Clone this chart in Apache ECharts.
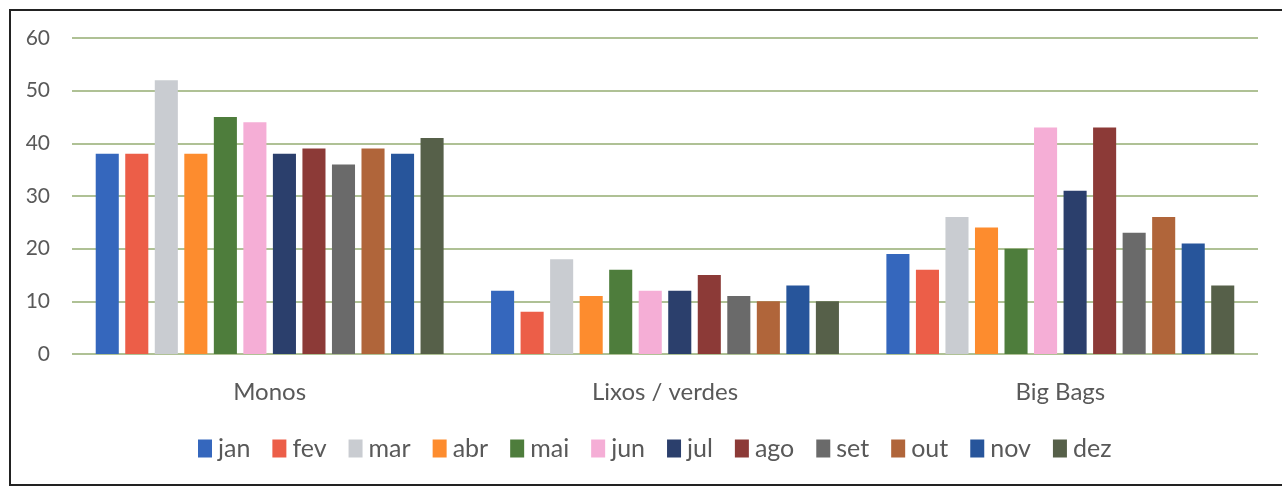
<!DOCTYPE html>
<html>
<head>
<meta charset="utf-8">
<script src="https://cdn.jsdelivr.net/npm/echarts@6/dist/echarts.min.js"></script>
<style>
html,body{margin:0;padding:0;background:#fff;}
#c{width:1282px;height:487px;}
</style>
</head>
<body>
<div id="c"></div>
<script>
const categories = ['Monos', 'Lixos / verdes', 'Big Bags'];
const months = ['jan','fev','mar','abr','mai','jun','jul','ago','set','out','nov','dez'];
const colors = ['#3567bd','#ec5e48','#c9ccd1','#fd8c2e','#4e7d3c','#f5aed6','#2b3f6c','#8c3a37','#6a6a6a','#b0653a','#27559b','#566049'];
const jan = [38, 12, 19];
const fev = [38, 8, 16];
const mar = [52, 18, 26];
const abr = [38, 11, 24];
const mai = [45, 16, 20];
const jun = [44, 12, 43];
const jul = [38, 12, 31];
const ago = [39, 15, 43];
const set = [36, 11, 23];
const out = [39, 10, 26];
const nov = [38, 13, 21];
const dez = [41, 10, 13];
const values = [jan, fev, mar, abr, mai, jun, jul, ago, set, out, nov, dez];
const yTicks = {min: 0, max: 60, interval: 10};

const chart = echarts.init(document.getElementById('c'));
const font = 'Lato, "Open Sans", sans-serif';
chart.setOption({
  animation: false,
  backgroundColor: '#fff',
  textStyle: {fontFamily: font},
  grid: {left: 72, right: 24, top: 38, bottom: 133},
  legend: {
    data: months,
    top: 431,
    left: 193,
    itemWidth: 14,
    itemHeight: 18,
    itemGap: 22,
    icon: 'rect',
    textStyle: {fontSize: 25, color: '#595959', fontFamily: font, padding: [0, 0, 0, 1]}
  },
  xAxis: {
    type: 'category',
    data: categories,
    axisLine: {show: false},
    axisTick: {show: false},
    axisLabel: {fontSize: 24, color: '#595959', margin: 26, fontFamily: font}
  },
  yAxis: {
    type: 'value',
    min: yTicks.min, max: yTicks.max, interval: yTicks.interval,
    axisLine: {show: false},
    axisTick: {show: false},
    axisLabel: {fontSize: 21, color: '#595959', margin: 22, fontFamily: font},
    splitLine: {lineStyle: {color: '#94ad72', width: 1.5}}
  },
  series: months.map((m, i) => ({
    name: m,
    type: 'bar',
    data: values[i],
    barGap: '28%',
    barCategoryGap: '12%',
    itemStyle: {color: colors[i]}
  })),
  graphic: [
    {type: 'polyline', shape: {points: [[1282, 10], [10, 10], [10, 485], [1282, 485]]}, style: {stroke: '#222', lineWidth: 2, fill: null}}
  ]
});
</script>
</body>
</html>
